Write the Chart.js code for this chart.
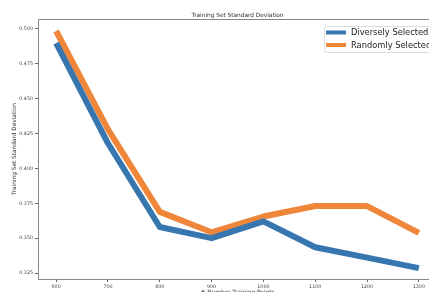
<!DOCTYPE html>
<html>
<head>
<meta charset="utf-8">
<style>
  html, body { margin: 0; padding: 0; background: #fff; overflow: hidden; }
  #wrap { width: 429px; height: 292px; overflow: hidden; }
</style>
</head>
<body>
<div id="wrap"><canvas id="myChart" width="445" height="300"></canvas></div>
<script src="https://cdn.jsdelivr.net/npm/chart.js@4"></script>
<script>
// data
var trainingPoints = [600, 700, 800, 900, 1000, 1100, 1200, 1300];
var diverselySelected = [0.4898, 0.4180, 0.3580, 0.3500, 0.3620, 0.3435, 0.3360, 0.3285];
var randomlySelected = [0.4985, 0.4280, 0.3688, 0.3542, 0.3655, 0.3730, 0.3730, 0.3538];
var xTickValues = [600, 700, 800, 900, 1000, 1100, 1200, 1300];
var yTickValues = [0.325, 0.350, 0.375, 0.400, 0.425, 0.450, 0.475, 0.500];

var FONT = "'DejaVu Sans', sans-serif";

function toPoints(xs, ys) {
    return xs.map(function (x, i) { return { x: x, y: ys[i] }; });
}

// title, axis titles, top frame line and the in-plot legend
var decorations = {
    id: 'decorations',
    afterDraw: function (chart) {
        var ctx = chart.ctx;
        var a = chart.chartArea;
        var cx = (a.left + a.right) / 2;
        ctx.save();

        // frame top
        ctx.strokeStyle = '#888';
        ctx.lineWidth = 1;
        ctx.beginPath();
        ctx.moveTo(a.left, a.top + 0.5);
        ctx.lineTo(a.right, a.top + 0.5);
        ctx.stroke();

        ctx.fillStyle = '#333';
        ctx.textAlign = 'center';
        ctx.textBaseline = 'alphabetic';
        ctx.font = '5.8px ' + FONT;
        ctx.fillText('Training Set Standard Deviation', cx, a.top - 2);

        ctx.textBaseline = 'top';
        ctx.fillText('# Number Training Points', cx, 289.5);

        ctx.save();
        ctx.translate(14, (a.top + a.bottom) / 2);
        ctx.rotate(-Math.PI / 2);
        ctx.textBaseline = 'middle';
        ctx.fillText('Training Set Standard Deviation', 0, 0);
        ctx.restore();

        // legend box
        var bx = 324, by = 26, bw = 130, bh = 26;
        ctx.fillStyle = 'rgba(255,255,255,0.85)';
        ctx.strokeStyle = '#ddd';
        ctx.beginPath();
        ctx.roundRect(bx + 0.5, by + 0.5, bw, bh, 2);
        ctx.fill();
        ctx.stroke();

        ctx.font = '8.3px ' + FONT;
        ctx.textAlign = 'left';
        ctx.textBaseline = 'middle';
        chart.data.datasets.forEach(function (ds, i) {
            var y = by + 6.5 + i * 12.5;
            ctx.strokeStyle = ds.borderColor;
            ctx.lineWidth = 4;
            ctx.beginPath();
            ctx.moveTo(bx + 2, y);
            ctx.lineTo(bx + 22, y);
            ctx.stroke();
            ctx.fillStyle = '#222';
            ctx.fillText(ds.label, bx + 27, y + 0.5);
        });
        ctx.restore();
    }
};

var ctx = document.getElementById('myChart').getContext('2d');
var myChart = new Chart(ctx, {
    type: 'line',
    data: {
        datasets: [{
            label: 'Diversely Selected',
            data: toPoints(trainingPoints, diverselySelected),
            borderColor: '#3876b0',
            borderWidth: 6,
            pointRadius: 0,
            tension: 0,
            borderJoinStyle: 'round'
        }, {
            label: 'Randomly Selected',
            data: toPoints(trainingPoints, randomlySelected),
            borderColor: '#f0863a',
            borderWidth: 6,
            pointRadius: 0,
            tension: 0,
            borderJoinStyle: 'round'
        }]
    },
    options: {
        responsive: false,
        animation: false,
        layout: { padding: { left: 0, top: 19, right: 8, bottom: 0 } },
        plugins: {
            legend: { display: false },
            title: { display: false },
            tooltip: { enabled: false }
        },
        scales: {
            x: {
                type: 'linear',
                min: 565,
                max: 1335,
                afterBuildTicks: function (scale) {
                    scale.ticks = xTickValues.map(function (v) { return { value: v }; });
                },
                afterFit: function (scale) { scale.height = 21; },
                grid: { drawOnChartArea: false, drawTicks: true, tickLength: 3, color: '#666' },
                border: { color: '#888' },
                ticks: {
                    font: { family: FONT, size: 4.8 },
                    color: '#444',
                    padding: 2,
                    maxRotation: 0,
                    autoSkip: false,
                    callback: function (v) { return String(v); }
                }
            },
            y: {
                min: 0.3207,
                max: 0.5071,
                afterBuildTicks: function (scale) {
                    scale.ticks = yTickValues.map(function (v) { return { value: v }; });
                },
                afterFit: function (scale) { scale.width = 38; },
                grid: { drawOnChartArea: false, drawTicks: true, tickLength: 3, color: '#666' },
                border: { color: '#888' },
                ticks: {
                    font: { family: FONT, size: 4.8 },
                    color: '#444',
                    padding: 2,
                    autoSkip: false,
                    callback: function (v) { return v.toFixed(3); }
                }
            }
        }
    },
    plugins: [decorations]
});
</script>
</body>
</html>
